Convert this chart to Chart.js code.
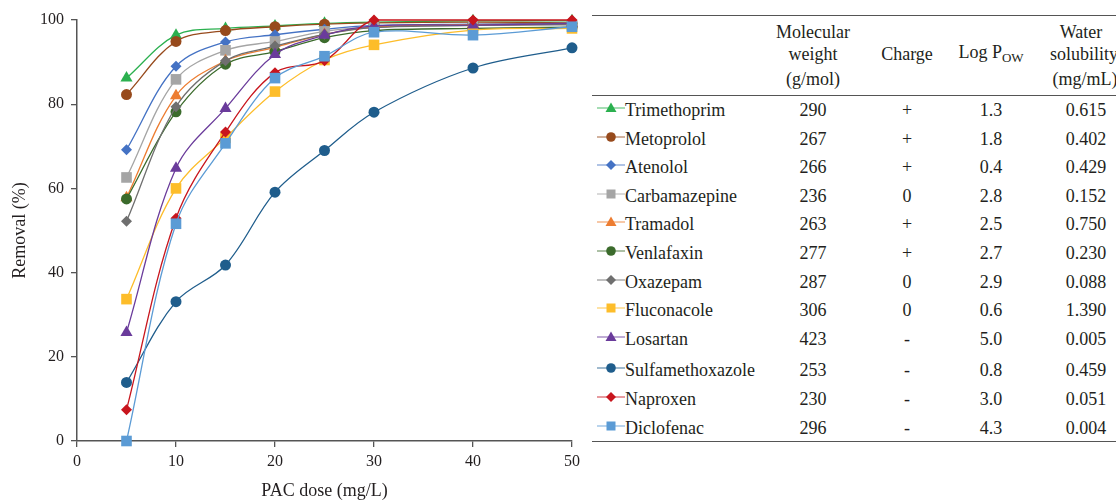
<!DOCTYPE html>
<html>
<head>
<meta charset="utf-8">
<script src="https://cdn.jsdelivr.net/npm/chart.js@4.4.1/dist/chart.umd.min.js"></script>
<style>
  body { margin: 0; background: #fff; font-family: "Liberation Serif", "Times New Roman", serif; color: #231f20; }
  #wrap { position: relative; width: 1116px; height: 503px; overflow: hidden; }
  #chartBox { position: absolute; left: 0; top: 0; width: 590px; height: 503px; }
  .rule { position: absolute; left: 592px; width: 540px; height: 0; border-top: 1.5px solid #555; }
  .cell { position: absolute; font-size: 18px; line-height: 20px; white-space: nowrap; transform: translate(-50%, -50%); }
  .name { position: absolute; left: 625px; font-size: 18px; line-height: 20px; white-space: nowrap; transform: translateY(-50%); }
  .mk { position: absolute; left: 597px; transform: translateY(-50%); display: block; }
  sub { font-size: 13px; vertical-align: -4px; }
</style>
</head>
<body>
<div id="wrap">
  <div id="chartBox"><canvas id="removalChart" width="590" height="503"></canvas></div>
  <div id="tbl"></div>
</div>
<script>
// --- data ---
const doses = [5, 10, 15, 20, 25, 30, 40, 50];
const compounds = ['Trimethoprim', 'Metoprolol', 'Atenolol', 'Carbamazepine', 'Tramadol', 'Venlafaxin',
  'Oxazepam', 'Fluconacole', 'Losartan', 'Sulfamethoxazole', 'Naproxen', 'Diclofenac'];

const trimethoprim     = [86.2, 96.4, 98.0, 98.6, 99.2, 99.5, 99.8, 99.8];
const metoprolol       = [82.3, 94.9, 97.5, 98.4, 99.0, 99.3, 99.5, 99.3];
const atenolol         = [69.2, 89.0, 94.8, 96.5, 97.8, 98.7, 99.0, 99.2];
const carbamazepine    = [62.6, 85.9, 92.8, 94.9, 97.3, 98.3, 98.7, 98.8];
const tramadol         = [57.8, 82.0, 90.3, 93.5, 96.6, 98.3, 98.9, 99.0];
const venlafaxin       = [57.5, 78.2, 89.5, 92.5, 95.8, 97.5, 98.0, 98.3];
const oxazepam         = [52.2, 79.4, 90.3, 93.8, 96.6, 98.2, 98.7, 99.0];
const fluconacole      = [33.7, 60.0, 72.0, 83.0, 90.5, 94.1, 97.6, 98.0];
const losartan         = [25.8, 64.8, 79.0, 91.8, 96.4, 98.6, 98.8, 99.2];
const sulfamethoxazole = [13.9, 33.1, 41.8, 59.1, 69.0, 78.1, 88.6, 93.4];
const naproxen         = [7.4, 52.9, 73.4, 87.5, 90.3, 100, 100, 100];
const diclofenac       = [0, 51.6, 70.7, 86.2, 91.4, 97.1, 96.4, 98.4];

const removal = [trimethoprim, metoprolol, atenolol, carbamazepine, tramadol, venlafaxin,
  oxazepam, fluconacole, losartan, sulfamethoxazole, naproxen, diclofenac];

// table columns
const molWeight  = ['290', '267', '266', '236', '263', '277', '287', '306', '423', '253', '230', '296'];
const charge     = ['+', '+', '+', '0', '+', '+', '0', '0', '-', '-', '-', '-'];
const logPow     = ['1.3', '1.8', '0.4', '2.8', '2.5', '2.7', '2.9', '0.6', '5.0', '0.8', '3.0', '4.3'];
const solubility = ['0.615', '0.402', '0.429', '0.152', '0.750', '0.230', '0.088', '1.390', '0.005', '0.459', '0.051', '0.004'];
const xTicks = [0, 10, 20, 30, 40, 50];
const yTicks = [0, 20, 40, 60, 80, 100];

// --- styles ---
const colors = ['#2bb04f', '#974a1c', '#4472c4', '#a5a5a5', '#ed7d31', '#3b6b2c',
  '#6f6f6f', '#fdbd2a', '#6a3b9b', '#1f5d8c', '#c8151d', '#5b9bd5'];
const styles = ['triangle', 'circle', 'rectRot', 'rect', 'triangle', 'circle',
  'rectRot', 'rect', 'triangle', 'circle', 'rectRot', 'rect'];
const radiusFor = { triangle: 7, circle: 5.5, rectRot: 5.5, rect: 7.5 };
const FONT = '"Liberation Serif", "Times New Roman", serif';
const INK = '#231f20';
const AXIS = '#555';

const datasets = compounds.map((name, i) => ({
  label: name,
  data: doses.map((d, j) => ({ x: d, y: removal[i][j] })),
  borderColor: colors[i],
  backgroundColor: colors[i],
  borderWidth: 1.3,
  pointStyle: styles[i],
  pointRadius: radiusFor[styles[i]],
  pointBorderWidth: 0,
  tension: 0.35,
  clip: false,
  order: compounds.length - i   // later series drawn on top, like the original
}));

new Chart(document.getElementById('removalChart'), {
  type: 'line',
  data: { datasets },
  options: {
    responsive: false,
    animation: false,
    layout: { padding: { top: 20, right: 18, left: 0, bottom: 0 } },
    plugins: { legend: { display: false }, tooltip: { enabled: false } },
    scales: {
      x: {
        type: 'linear', min: 0, max: 50,
        afterBuildTicks: s => { s.ticks = xTicks.map(v => ({ value: v })); },
        afterFit: s => { s.height = 62; },
        ticks: { color: INK, font: { family: FONT, size: 16 }, padding: 5, maxRotation: 0 },
        grid: { drawOnChartArea: false, color: AXIS, tickLength: 6, lineWidth: 1.3 },
        border: { color: AXIS, width: 1.5 },
        title: { display: true, text: 'PAC dose (mg/L)', color: INK, font: { family: FONT, size: 18 }, padding: { top: 0, bottom: 1 } }
      },
      y: {
        min: 0, max: 100,
        afterBuildTicks: s => { s.ticks = yTicks.map(v => ({ value: v })); },
        afterFit: s => { s.width = 77; },
        ticks: { color: INK, font: { family: FONT, size: 16 }, padding: 7 },
        grid: { drawOnChartArea: false, color: AXIS, tickLength: 6, lineWidth: 1.3 },
        border: { color: AXIS, width: 1.5 },
        title: { display: true, text: 'Removal (%)', color: INK, font: { family: FONT, size: 18 }, padding: { top: 9, bottom: 0 } }
      }
    }
  }
});

// --- table on the right ---
const tbl = document.getElementById('tbl');
function addEl(cls, html, x, y) {
  const el = document.createElement('div');
  el.className = cls;
  el.innerHTML = html;
  if (x !== null) el.style.left = x + 'px';
  el.style.top = y + 'px';
  tbl.appendChild(el);
  return el;
}
function addRule(y) {
  const r = document.createElement('div');
  r.className = 'rule';
  r.style.top = y + 'px';
  tbl.appendChild(r);
}

function markerSvg(style, color) {
  const c = 14, m = 9;
  let shape = '';
  if (style === 'circle') shape = `<circle cx="${c}" cy="${m}" r="4.8" fill="${color}"/>`;
  else if (style === 'triangle') shape = `<polygon points="${c},${m - 5.5} ${c + 5.5},${m + 4} ${c - 5.5},${m + 4}" fill="${color}"/>`;
  else if (style === 'rectRot') shape = `<polygon points="${c},${m - 5} ${c + 5},${m} ${c},${m + 5} ${c - 5},${m}" fill="${color}"/>`;
  else shape = `<rect x="${c - 4.5}" y="${m - 4.5}" width="9" height="9" fill="${color}"/>`;
  return `<svg width="28" height="18"><line x1="0" y1="${m}" x2="28" y2="${m}" stroke="${color}" stroke-width="1.2" opacity="0.7"/>${shape}</svg>`;
}

const colMW = 813, colCh = 907, colLog = 991, colSol = 1086;
addRule(15);
addEl('cell', 'Molecular', colMW, 32);
addEl('cell', 'weight', colMW, 54);
addEl('cell', '(g/mol)', colMW, 79);
addEl('cell', 'Charge', colCh, 54);
addEl('cell', 'Log P<sub>OW</sub>', colLog, 55);
addEl('cell', 'Water', 1081, 32);
addEl('cell', 'solubility', 1084, 54);
addEl('cell', '(mg/mL)', 1085, 79);
addRule(95);

compounds.forEach((name, i) => {
  const y = 110 + i * 28.6 + (i >= 9 ? 3 : 0);
  addEl('mk', markerSvg(styles[i], colors[i]), null, y);
  addEl('name', name, null, y);
  addEl('cell', molWeight[i], colMW, y);
  addEl('cell', charge[i], colCh, y);
  addEl('cell', logPow[i], colLog, y);
  addEl('cell', solubility[i], colSol, y);
});
addRule(441);
</script>
</body>
</html>
